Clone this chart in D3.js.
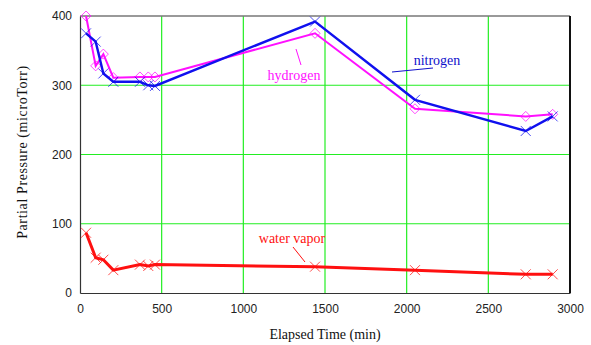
<!DOCTYPE html>
<head>
	<meta charset="utf-8">
	<title>Partial Pressure vs Elapsed Time</title>
	<script src="https://d3js.org/d3.v7.min.js"></script>
	<style>
	body { margin:0; background:#fff; }
	.grid line { stroke:#22ee22; stroke-width:1.2px; }
	.tick text { font-family:"Liberation Sans", Arial, sans-serif; font-size:12px; fill:#222; }
	.axislabel { font-family:"Liberation Serif", "Times New Roman", serif; font-size:14px; fill:#111; }
	.ylabel { letter-spacing:0.6px; }
	.serieslabel { font-family:"Liberation Serif", "Times New Roman", serif; font-size:14px; }
	</style>
</head>
<body>
<script>
	//elapsed time (min) for every sample
	var times=[37,96,143,204,367,418,459,1439,2051,2729,2894];
	var nitrogen=[375,363,317,305,305,300,299,392,279,234,255];
	var hydrogen=[400,328,345,311,312,312,312,375,266,255,258];
	var waterVapor=[87,51,48,33,41,39,41,38,33,27,27];

	var xTicks=[0,500,1000,1500,2000,2500,3000];
	var yTicks=[0,100,200,300,400];

	var margin={top:16, right:21, bottom:52, left:80};
	var totalWidth=591, totalHeight=345;
	var width=totalWidth-margin.left-margin.right,
		height=totalHeight-margin.top-margin.bottom;

	var x=d3.scaleLinear().domain([0,3000]).range([0,width]);
	var y=d3.scaleLinear().domain([0,400]).range([height,0]);

	var svg=d3.select("body").append("svg")
		.attr("width",totalWidth)
		.attr("height",totalHeight)
		.append("g")
		.attr("transform","translate("+margin.left+","+margin.top+")");

	//green grid
	var grid=svg.append("g").attr("class","grid");
	grid.selectAll(".gx").data(xTicks.slice(1,-1)).enter().append("line")
		.attr("x1",function(d){return x(d);}).attr("x2",function(d){return x(d);})
		.attr("y1",0).attr("y2",height);
	grid.selectAll(".gy").data(yTicks.slice(1,-1)).enter().append("line")
		.attr("y1",function(d){return y(d);}).attr("y2",function(d){return y(d);})
		.attr("x1",0).attr("x2",width);

	//frame: grey top, heavy right
	svg.append("line").attr("x1",0).attr("x2",width).attr("y1",0).attr("y2",0)
		.attr("stroke","#777").attr("stroke-width",1.5);
	svg.append("line").attr("x1",width).attr("x2",width).attr("y1",0).attr("y2",height)
		.attr("stroke","#111").attr("stroke-width",2);

	var xAxis=d3.axisBottom(x).tickValues(xTicks).tickFormat(d3.format("d")).tickSize(0).tickPadding(11);
	var yAxis=d3.axisLeft(y).tickValues(yTicks).tickFormat(d3.format("d")).tickSize(0).tickPadding(8);

	svg.append("g").attr("class","x-axis")
		.attr("transform","translate(0,"+height+")")
		.call(xAxis)
		.select(".domain").attr("stroke","#333").attr("stroke-width",1.2);
	svg.append("g").attr("class","y-axis")
		.call(yAxis)
		.select(".domain").attr("stroke","#333").attr("stroke-width",1.2);

	var plot=svg.append("g");

	var drawSeries=function(values,color,lineWidth,marker) {
		var pts=times.map(function(t,i){return [x(t),y(values[i])];});
		plot.append("path")
			.attr("d",d3.line()(pts))
			.attr("fill","none")
			.attr("stroke",color)
			.attr("stroke-width",lineWidth);
		var m=plot.selectAll(null).data(pts).enter().append("path")
			.attr("fill","none")
			.attr("stroke",color)
			.attr("stroke-width",1)
			.attr("opacity",0.75);
		if (marker=="x") {
			m.attr("d",function(p){
				var s=5;
				return "M"+(p[0]-s)+","+(p[1]-s)+"L"+(p[0]+s)+","+(p[1]+s)+
					"M"+(p[0]-s)+","+(p[1]+s)+"L"+(p[0]+s)+","+(p[1]-s);
			});
		} else {
			m.attr("d",function(p){
				var s=5;
				return "M"+p[0]+","+(p[1]-s)+"L"+(p[0]+s)+","+p[1]+"L"+p[0]+","+(p[1]+s)+"L"+(p[0]-s)+","+p[1]+"Z";
			});
		}
	};

	drawSeries(waterVapor,"#ff1010",3,"x");
	drawSeries(hydrogen,"#ff10ff",2,"d");
	drawSeries(nitrogen,"#1010ee",2.4,"x");

	//series labels with leader lines (page coords shifted into plot coords)
	var labels=[
		{text:"nitrogen", color:"#1010cc", tx:437, ty:65, line:[[392,72],[433,68]]},
		{text:"hydrogen", color:"#ff10ff", tx:294, ty:80, line:[[296,49],[301,65]]},
		{text:"water vapor", color:"#ff1010", tx:292, ty:243, line:[[293,247],[305,262]]}
	];
	labels.forEach(function(l) {
		svg.append("text").attr("class","serieslabel")
			.attr("x",l.tx-margin.left).attr("y",l.ty-margin.top)
			.attr("text-anchor","middle")
			.attr("fill",l.color)
			.text(l.text);
		svg.append("line")
			.attr("x1",l.line[0][0]-margin.left).attr("y1",l.line[0][1]-margin.top)
			.attr("x2",l.line[1][0]-margin.left).attr("y2",l.line[1][1]-margin.top)
			.attr("stroke",l.color).attr("stroke-width",1);
	});

	svg.append("text").attr("class","axislabel")
		.attr("x",325-margin.left).attr("y",339-margin.top)
		.attr("text-anchor","middle")
		.text("Elapsed Time (min)");
	svg.append("text").attr("class","axislabel ylabel")
		.attr("transform","translate("+(27-margin.left)+","+(152-margin.top)+") rotate(-90)")
		.attr("text-anchor","middle")
		.text("Partial Pressure (microTorr)");
</script>
</body>
</html>
